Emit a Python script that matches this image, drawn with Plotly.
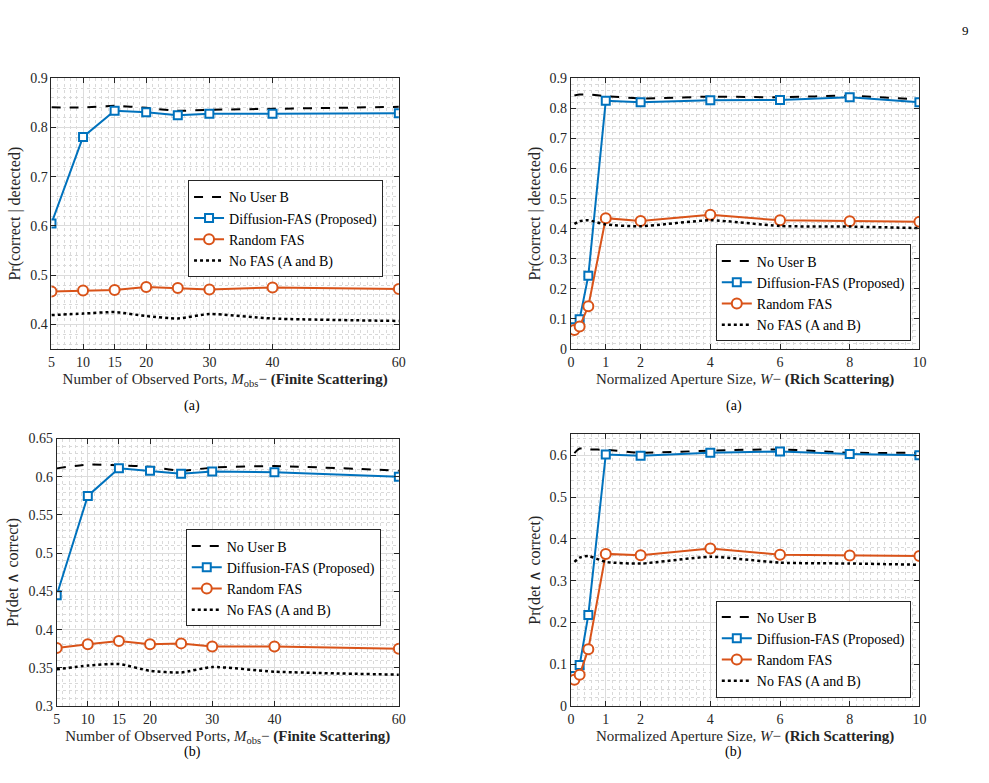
import plotly.graph_objects as go

# ---------------- data ----------------
ports = [5, 10, 15, 20, 25, 30, 40, 60]
ports_ticks = [5, 10, 15, 20, 30, 40, 60]
aperture = [0.1, 0.25, 0.5, 1, 2, 4, 6, 8, 10]
aperture_ticks = [0, 1, 2, 4, 6, 8, 10]

series_names = ["No User B", "Diffusion-FAS (Proposed)", "Random FAS", "No FAS (A and B)"]

# (a) finite scattering: Pr(correct | detected)
fa_nouserb = [0.841, 0.841, 0.844, 0.840, 0.834, 0.836, 0.838, 0.842]
fa_diff = [0.605, 0.781, 0.834, 0.831, 0.825, 0.828, 0.828, 0.829]
fa_rand = [0.467, 0.469, 0.470, 0.476, 0.474, 0.471, 0.475, 0.472]
fa_nofas = [0.419, 0.422, 0.425, 0.417, 0.412, 0.421, 0.412, 0.407]

# (a) rich scattering: Pr(correct | detected)
ra_nouserb = [0.843, 0.846, 0.846, 0.841, 0.833, 0.839, 0.837, 0.842, 0.829]
ra_diff = [0.072, 0.099, 0.244, 0.825, 0.820, 0.827, 0.828, 0.837, 0.820]
ra_rand = [0.063, 0.075, 0.142, 0.435, 0.426, 0.446, 0.428, 0.425, 0.423]
ra_nofas = [0.416, 0.425, 0.428, 0.414, 0.408, 0.428, 0.409, 0.407, 0.402]

# (b) finite scattering: Pr(det ^ correct)
fb_nouserb = [0.611, 0.616, 0.615, 0.613, 0.608, 0.612, 0.614, 0.608]
fb_diff = [0.445, 0.575, 0.611, 0.608, 0.604, 0.607, 0.606, 0.600]
fb_rand = [0.376, 0.381, 0.385, 0.381, 0.382, 0.378, 0.378, 0.375]
fb_nofas = [0.348, 0.353, 0.355, 0.346, 0.344, 0.351, 0.345, 0.341]

# (b) rich scattering: Pr(det ^ correct)
rb_nouserb = [0.605, 0.616, 0.614, 0.613, 0.606, 0.611, 0.614, 0.606, 0.606]
rb_diff = [0.072, 0.098, 0.218, 0.602, 0.599, 0.606, 0.609, 0.603, 0.600]
rb_rand = [0.063, 0.075, 0.136, 0.364, 0.361, 0.377, 0.362, 0.360, 0.359]
rb_nofas = [0.345, 0.355, 0.359, 0.345, 0.341, 0.357, 0.343, 0.341, 0.338]

captions = ["(a)", "(a)", "(b)", "(b)"]
page_number = "9"

# ---------------- style ----------------
FONT = "Liberation Serif, Times New Roman, serif"
BLUE = "#0072BD"
ORANGE = "#D95319"
AX = "#262626"

fig = go.Figure()


def add_panel(idx, x, nub, diff, rand, nofas):
    sfx = "" if idx == 1 else str(idx)
    xa, ya = "x" + sfx, "y" + sfx
    lg = "legend" + sfx
    fig.add_trace(go.Scatter(x=x, y=nub, mode="lines", name=series_names[0],
                             line=dict(color="black", width=2, dash="dash", shape="spline", smoothing=0.6),
                             xaxis=xa, yaxis=ya, legend=lg))
    fig.add_trace(go.Scatter(x=x, y=diff, mode="lines+markers", name=series_names[1],
                             line=dict(color=BLUE, width=2),
                             marker=dict(symbol="square", size=8, color="white",
                                         line=dict(color=BLUE, width=2)),
                             xaxis=xa, yaxis=ya, legend=lg))
    fig.add_trace(go.Scatter(x=x, y=rand, mode="lines+markers", name=series_names[2],
                             line=dict(color=ORANGE, width=2),
                             marker=dict(symbol="circle", size=10, color="white",
                                         line=dict(color=ORANGE, width=2)),
                             xaxis=xa, yaxis=ya, legend=lg))
    fig.add_trace(go.Scatter(x=x, y=nofas, mode="lines", name=series_names[3],
                             line=dict(color="black", width=2.5, dash="dot", shape="spline", smoothing=0.6),
                             xaxis=xa, yaxis=ya, legend=lg))


add_panel(1, ports, fa_nouserb, fa_diff, fa_rand, fa_nofas)
add_panel(2, aperture, ra_nouserb, ra_diff, ra_rand, ra_nofas)
add_panel(3, ports, fb_nouserb, fb_diff, fb_rand, fb_nofas)
add_panel(4, aperture, rb_nouserb, rb_diff, rb_rand, rb_nofas)

W, H = 989, 783


def px(xpix):
    return xpix / W


def py(ypix):
    return 1 - ypix / H


def xaxis_cfg(dom, anchor, rng, ticks, minor_dt, title):
    return dict(domain=dom, anchor=anchor, range=rng, tickmode="array", tickvals=ticks,
                ticktext=[str(t) for t in ticks],
                showline=True, linecolor=AX, linewidth=1, mirror="allticks",
                ticks="inside", ticklen=5, tickcolor=AX,
                showgrid=True, gridcolor="#dcdcdc", gridwidth=1,
                minor=dict(dtick=minor_dt, tick0=0, showgrid=True, gridcolor="#d9d9d9",
                           griddash="dot", gridwidth=1),
                zeroline=False,
                tickfont=dict(family=FONT, size=14, color=AX),
                title=dict(text=title, font=dict(family=FONT, size=15, color=AX), standoff=4))


def yaxis_cfg(dom, anchor, rng, dtick, minor_dt, title):
    return dict(domain=dom, anchor=anchor, range=rng, dtick=dtick, tick0=0,
                showline=True, linecolor=AX, linewidth=1, mirror="allticks",
                ticks="inside", ticklen=5, tickcolor=AX,
                showgrid=True, gridcolor="#dcdcdc", gridwidth=1,
                minor=dict(dtick=minor_dt, tick0=0, showgrid=True, gridcolor="#d9d9d9",
                           griddash="dot", gridwidth=1),
                zeroline=False,
                tickfont=dict(family=FONT, size=14, color=AX),
                title=dict(text=title, font=dict(family=FONT, size=16, color=AX), standoff=5))


xt_finite = "Number of Observed Ports, <i>M</i><sub>obs</sub>− <b>(Finite Scattering)</b>"
xt_rich = "Normalized Aperture Size, <i>W</i>− <b>(Rich Scattering)</b>"
yt_a = "Pr(correct | detected)"
yt_b = "Pr(det ∧ correct)"

xl_dom = [px(48), px(399.3)]
xl3_dom = [px(53.3), px(399.3)]
xr_dom = [px(573.3), px(925.7)]
yt_dom = [py(348.7), py(72.7)]
yb_dom = [py(712.7), py(440)]
yb4_dom = [py(712.7), py(435.7)]

fig.update_layout(
    width=W, height=H, margin=dict(l=0, r=0, t=0, b=0),
    paper_bgcolor="white", plot_bgcolor="white",
    font=dict(family=FONT, color=AX),
    xaxis=xaxis_cfg(xl_dom, "y", [5, 60], ports_ticks, 1, xt_finite),
    yaxis=yaxis_cfg(yt_dom, "x", [0.35, 0.9], 0.1, 0.02, yt_a),
    xaxis2=xaxis_cfg(xr_dom, "y2", [0, 10], aperture_ticks, 0.2, xt_rich),
    yaxis2=yaxis_cfg(yt_dom, "x2", [0, 0.9], 0.1, 0.02, yt_a),
    xaxis3=xaxis_cfg(xl3_dom, "y3", [5, 60], ports_ticks, 1, xt_finite),
    yaxis3=yaxis_cfg(yb_dom, "x3", [0.3, 0.65], 0.05, 0.01, yt_b),
    xaxis4=xaxis_cfg(xr_dom, "y4", [0, 10], aperture_ticks, 0.2, xt_rich),
    yaxis4=yaxis_cfg(yb4_dom, "x4", [0, 0.65], 0.1, 0.02, yt_b),
)

leg_common = dict(bgcolor="white", bordercolor=AX, borderwidth=1,
                  font=dict(family=FONT, size=14, color="black"),
                  tracegroupgap=0, itemwidth=30)
fig.update_layout(
    legend=dict(x=px(383.3), y=py(176.7), xanchor="right", yanchor="top", **leg_common),
    legend2=dict(x=px(917), y=py(341), xanchor="right", yanchor="bottom", **leg_common),
    legend3=dict(x=px(381), y=py(532.7), xanchor="right", yanchor="top", **leg_common),
    legend4=dict(x=px(917), y=py(704), xanchor="right", yanchor="bottom", **leg_common),
)

cap_pos = [(180, 407), (748, 407), (180, 770), (748, 770)]
for txt, (cx, cy) in zip(captions, cap_pos):
    fig.add_annotation(text=txt, x=px(cx), y=py(cy), xref="paper", yref="paper",
                       showarrow=False, font=dict(family=FONT, size=14, color="black"))
fig.add_annotation(text=page_number, x=px(978), y=py(14), xref="paper", yref="paper",
                   showarrow=False, font=dict(family=FONT, size=13, color="black"))

fig.write_html("out.html")
